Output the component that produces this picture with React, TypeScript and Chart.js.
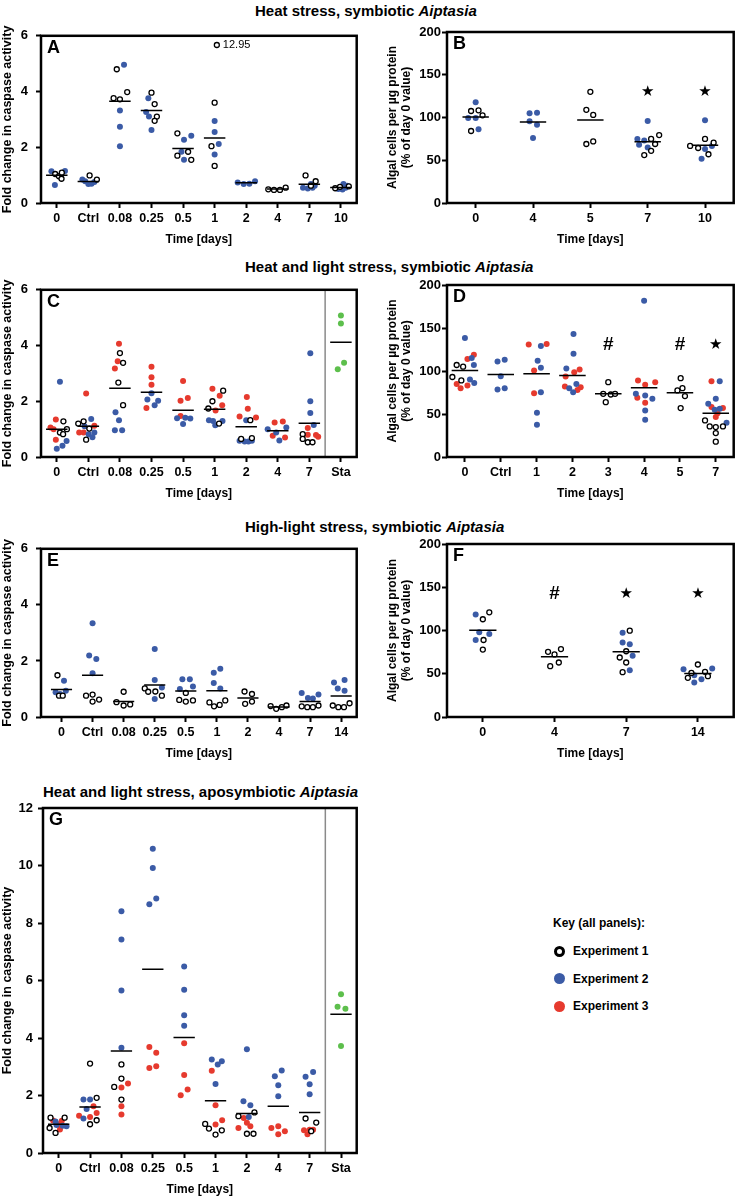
import React, { useEffect, useRef } from "react";
import { Chart, registerables } from "chart.js";
Chart.register(...registerables);

const FONT = "'Liberation Sans', Arial, Helvetica, sans-serif";
const BLUE = "#3b5ba6";
const RED = "#e63a2e";
const GREEN = "#5dbf4c";

// each point: [category index, horizontal jitter (category units), value]
type P = [number, number, number];

// ---------- Panel A ----------
const aCats = ["0", "Ctrl", "0.08", "0.25", "0.5", "1", "2", "4", "7", "10"];
const aMeans = [1.0, 0.77, 3.65, 3.32, 1.96, 2.33, 0.73, 0.5, 0.67, 0.56];
const aExp1: P[] = [
  [0, -0.05, 1.04], [0, 0.07, 0.96], [0, 0.15, 0.87], [0, 0.16, 1.09],
  [1, 0.04, 0.99], [1, 0.27, 0.84],
  [2, -0.1, 4.8], [2, -0.2, 3.76], [2, 0, 3.72], [2, 0.23, 3.98],
  [3, 0, 3.96], [3, 0.1, 3.55], [3, 0.17, 3.1], [3, 0.1, 2.95],
  [4, -0.18, 2.5], [4, -0.18, 1.7], [4, 0.16, 1.84], [4, 0.26, 1.55],
  [5, 0, 3.6], [5, -0.1, 2.04], [5, 0, 1.33],
  [7, -0.3, 0.49], [7, -0.12, 0.47], [7, 0.07, 0.47], [7, 0.25, 0.55],
  [8, -0.12, 0.99], [8, 0.2, 0.78], [8, 0.05, 0.62],
  [9, -0.18, 0.53], [9, -0.03, 0.58], [9, 0.25, 0.6],
];
const aExp2: P[] = [
  [0, -0.17, 1.14], [0, 0.26, 1.15], [0, -0.06, 0.65],
  [1, -0.19, 0.84], [1, -0.1, 0.78], [1, 0, 0.68], [1, 0.1, 0.69], [1, 0.19, 0.75],
  [2, 0.13, 4.96], [2, 0, 3.32], [2, 0, 2.74], [2, 0, 2.04],
  [3, -0.1, 3.76], [3, -0.17, 3.27], [3, -0.08, 3.1], [3, 0, 2.62],
  [4, 0.26, 2.41], [4, 0.03, 2.27], [4, -0.05, 1.84], [4, 0.03, 1.55],
  [5, 0, 2.94], [5, 0, 2.55], [5, 0.13, 2.12], [5, 0, 1.74],
  [6, -0.27, 0.74], [6, -0.08, 0.68], [6, 0.1, 0.69], [6, 0.28, 0.78],
  [8, -0.2, 0.55], [8, -0.05, 0.52], [8, 0.1, 0.55], [8, 0.17, 0.62], [8, 0.05, 0.68],
  [9, -0.08, 0.5], [9, 0.05, 0.48], [9, 0.08, 0.68], [9, 0.2, 0.62], [9, 0.15, 0.55],
];
const aBroken: P[] = [[5, 0.07, 5.67]];
const aBrokenText = ["12.95"];

// ---------- Panel B ----------
const bCats = ["0", "4", "5", "7", "10"];
const bMeans = [100.5, 94.7, 97, 71.5, 67.5];
const bMarks = ["", "", "", "★", "★"];
const bMarkY = 130;
const bExp1: P[] = [
  [0, -0.08, 107.6], [0, 0.05, 108.4], [0, 0.12, 102.5], [0, -0.08, 84.2],
  [2, 0, 130], [2, -0.07, 109], [2, 0.05, 103], [2, -0.07, 69], [2, 0.05, 72],
  [3, 0.06, 75], [3, 0.2, 79.5], [3, 0.13, 69], [3, 0.06, 61], [3, -0.06, 56],
  [4, 0, 75], [4, 0.15, 70.6], [4, -0.26, 66.7], [4, -0.12, 64.3], [4, 0.06, 57],
];
const bExp2: P[] = [
  [0, 0, 117.8], [0, -0.13, 99.4], [0, 0, 99.4], [0, 0.05, 86.2],
  [1, -0.06, 104.9], [1, 0.07, 105.7], [1, -0.06, 95.5], [1, 0.07, 91.6], [1, 0, 76],
  [3, 0, 96], [3, -0.18, 75], [3, -0.06, 73], [3, -0.15, 68], [3, 0, 65],
  [4, 0, 96.7], [4, 0, 63.2], [4, 0.12, 66.7], [4, -0.06, 51.9],
];

// ---------- Panel C ----------
const cCats = ["0", "Ctrl", "0.08", "0.25", "0.5", "1", "2", "4", "7", "Sta"];
const cMeans = [1.0, 1.1, 2.47, 2.32, 1.68, 1.71, 1.09, 0.94, 1.21, 4.12];
const cExp1: P[] = [
  [0, 0.21, 1.28], [0, 0.32, 1.0], [0, 0.1, 0.88], [0, 0.2, 0.82],
  [1, -0.32, 1.2], [1, -0.15, 1.28], [1, 0.03, 1.02], [1, -0.07, 0.62],
  [2, 0, 3.73], [2, 0.1, 3.38], [2, -0.05, 2.67], [2, 0.1, 1.86],
  [5, 0.27, 2.38], [5, -0.07, 2.0], [5, -0.2, 1.74], [5, 0.14, 1.2],
  [6, 0.13, 1.32], [6, -0.16, 0.65], [6, 0.18, 0.68],
  [8, -0.21, 0.82], [8, -0.21, 0.65], [8, -0.05, 0.53], [8, 0.1, 0.53],
];
const cExp2: P[] = [
  [0, 0.1, 2.7], [0, 0.31, 0.57], [0, 0.18, 0.4], [0, 0, 0.3],
  [1, 0.09, 1.36], [1, -0.12, 1.1], [1, 0.01, 0.82], [1, 0.19, 0.88], [1, 0.13, 0.71],
  [2, -0.14, 1.61], [2, -0.03, 1.32], [2, -0.16, 0.96], [2, 0.07, 0.96],
  [3, 0, 2.29], [3, -0.13, 2.06], [3, 0.21, 2.02], [3, 0.1, 1.86],
  [4, -0.19, 1.39], [4, 0.07, 1.41], [4, 0.23, 1.38], [4, 0, 1.18],
  [5, -0.18, 1.32], [5, -0.05, 1.29], [5, 0.25, 1.29], [5, 0.02, 1.14],
  [6, 0, 1.32], [6, -0.21, 0.58], [6, -0.05, 0.56], [6, 0.07, 0.56], [6, 0.18, 0.58],
  [7, -0.32, 1.0], [7, 0.27, 1.06], [7, -0.05, 0.88], [7, 0.05, 0.59],
  [8, 0.03, 3.72], [8, 0.03, 2.0], [8, 0.03, 1.58], [8, 0.14, 1.15],
];
const cExp3: P[] = [
  [0, -0.03, 1.35], [0, -0.2, 1.06], [0, -0.1, 1.0], [0, -0.03, 0.62],
  [1, -0.07, 2.28], [1, 0.19, 1.12], [1, -0.29, 0.88], [1, -0.15, 0.88],
  [2, -0.03, 4.06], [2, -0.07, 3.44], [2, -0.16, 3.18],
  [3, 0, 3.24], [3, 0, 2.86], [3, 0, 2.59], [3, -0.16, 1.76],
  [4, 0, 2.73], [4, 0.15, 2.12], [4, -0.08, 2.02], [4, -0.08, 1.47],
  [5, -0.07, 2.45], [5, 0.16, 2.2], [5, 0.24, 1.86], [5, 0.03, 1.67],
  [6, 0.02, 2.15], [6, 0.05, 1.73], [6, -0.21, 1.45], [6, 0.31, 1.42],
  [7, -0.1, 1.24], [7, 0.16, 1.27], [7, -0.16, 0.76], [7, 0.23, 0.7],
  [8, -0.05, 1.04], [8, -0.05, 0.8], [8, 0.21, 0.79], [8, 0.28, 0.73],
];
const cSta: P[] = [[9, 0, 5.08], [9, 0, 4.79], [9, 0.1, 3.38], [9, -0.1, 3.15]];

// ---------- Panel D ----------
const dCats = ["0", "Ctrl", "1", "2", "3", "4", "5", "7"];
const dMeans = [100.6, 96, 96.7, 94.8, 73.5, 80.5, 74.7, 51];
const dMarks = ["", "", "", "", "#", "", "#", "★"];
const dMarkY = 130;
const dExp1: P[] = [
  [0, -0.23, 107], [0, -0.05, 105], [0, -0.35, 93], [0, -0.1, 89],
  [4, 0, 87], [4, -0.14, 73.5], [4, 0.07, 72.7], [4, 0.19, 73.5], [4, -0.07, 63.8],
  [6, 0.02, 91.7], [6, 0.07, 80], [6, -0.07, 77.4], [6, 0.14, 70.8], [6, 0.02, 56.9],
  [7, -0.3, 42.5], [7, -0.17, 35.6], [7, 0, 34.8], [7, 0.2, 35.6], [7, 0, 27.8], [7, 0, 17.8],
];
const dExp2: P[] = [
  [0, 0, 138.5], [0, 0.19, 115], [0, 0.25, 107], [0, 0.14, 90], [0, 0.26, 86],
  [1, -0.09, 111], [1, 0.11, 113], [1, 0, 94], [1, -0.09, 78.5], [1, 0.11, 80],
  [2, 0.12, 129], [2, 0.03, 112], [2, 0.12, 103.7], [2, 0.12, 75.4], [2, 0.01, 51.4], [2, 0.01, 37.5],
  [3, 0.03, 143], [3, 0.03, 120], [3, -0.17, 103], [3, 0.11, 85], [3, -0.09, 80], [3, 0.02, 75.4],
  [5, 0, 181.8], [5, -0.23, 73.5], [5, 0.03, 71.6], [5, 0.23, 67.7], [5, 0.03, 54], [5, 0.03, 43.3],
  [7, 0.11, 88.2], [7, 0, 67.7], [7, -0.21, 61.9], [7, 0.11, 56], [7, -0.03, 55], [7, 0.3, 39.8],
];
const dExp3: P[] = [
  [0, 0.25, 119], [0, 0.07, 114], [0, -0.23, 85], [0, 0.07, 83], [0, -0.12, 80],
  [2, -0.22, 130.7], [2, 0.28, 131.5], [2, -0.07, 100.6], [2, -0.07, 74],
  [3, 0.2, 101.7], [3, 0.05, 98.6], [3, -0.19, 93.6], [3, -0.21, 82], [3, 0.23, 81], [3, 0.14, 78],
  [5, -0.17, 89], [5, 0.03, 84], [5, 0.31, 87], [5, -0.19, 68.8], [5, 0.03, 63],
  [7, -0.12, 88.2], [7, -0.12, 58], [7, 0.2, 57], [7, 0, 46.4], [7, 0.05, 51],
];

// ---------- Panel E ----------
const eCats = ["0", "Ctrl", "0.08", "0.25", "0.5", "1", "2", "4", "7", "14"];
const eMeans = [0.98, 1.49, 0.55, 1.14, 0.93, 0.94, 0.68, 0.36, 0.55, 0.75];
const eExp1: P[] = [
  [0, -0.13, 1.49], [0, -0.08, 0.76], [0, 0.04, 0.76],
  [1, -0.21, 0.76], [1, 0, 0.8], [1, 0, 0.55], [1, 0.21, 0.62],
  [2, 0, 0.9], [2, -0.23, 0.53], [2, 0, 0.41], [2, 0.21, 0.45],
  [3, -0.32, 1.02], [3, -0.21, 0.9], [3, 0.02, 0.91], [3, 0.23, 0.76],
  [4, 0, 0.86], [4, -0.21, 0.61], [4, 0, 0.55], [4, 0.23, 0.59],
  [5, 0.27, 0.59], [5, -0.24, 0.52], [5, -0.09, 0.38], [5, 0.09, 0.43],
  [6, -0.11, 0.91], [6, 0.13, 0.82], [6, -0.09, 0.47], [6, 0.13, 0.55],
  [7, -0.27, 0.39], [7, -0.09, 0.29], [7, 0.09, 0.35], [7, 0.24, 0.41],
  [8, -0.27, 0.38], [8, -0.09, 0.35], [8, 0.09, 0.35], [8, 0.27, 0.41],
  [9, -0.27, 0.41], [9, -0.09, 0.35], [9, 0.09, 0.35], [9, 0.27, 0.49],
];
const eExp2: P[] = [
  [0, 0.08, 1.29], [0, -0.19, 0.88], [0, 0.14, 0.94], [0, -0.05, 0.82],
  [1, 0, 3.34], [1, -0.11, 2.19], [1, 0.12, 2.07], [1, 0, 1.56],
  [3, 0, 2.43], [3, 0, 1.32], [3, 0.23, 1.05], [3, 0, 0.64],
  [4, -0.11, 1.35], [4, 0.13, 1.35], [4, 0.23, 1.09], [4, -0.19, 1.0],
  [5, -0.1, 1.58], [5, 0.11, 1.72], [5, -0.1, 1.21], [5, 0.11, 1.02],
  [8, -0.27, 0.86], [8, -0.07, 0.68], [8, 0.09, 0.66], [8, 0.27, 0.8],
  [9, -0.23, 1.23], [9, 0.11, 1.32], [9, -0.11, 1.02], [9, 0.11, 0.94],
];

// ---------- Panel F ----------
const fCats = ["0", "4", "7", "14"];
const fMeans = [100.3, 69.6, 75.4, 50.3];
const fMarks = ["", "#", "★", "★"];
const fMarkY = 142.5;
const fExp1: P[] = [
  [0, 0.09, 121], [0, 0, 113], [0, 0.01, 89], [0, 0, 78],
  [1, -0.09, 75.4], [1, 0.09, 78.5], [1, 0, 72.3], [1, 0.06, 63], [1, -0.06, 58.8],
  [2, 0.05, 99.8], [2, 0, 76], [2, -0.09, 68.8], [2, 0, 63], [2, -0.05, 51.8],
  [3, 0, 60.7], [3, -0.09, 51], [3, 0.1, 52.2], [3, -0.14, 45.3], [3, 0.14, 47.2],
];
const fExp2: P[] = [
  [0, -0.1, 118.5], [0, -0.05, 98], [0, 0.09, 96], [0, -0.1, 89],
  [2, -0.05, 97.5], [2, -0.05, 86], [2, 0.05, 84], [2, 0.09, 70.8], [2, 0.05, 54],
  [3, -0.2, 55.3], [3, 0.2, 56], [3, -0.05, 48.3], [3, 0.05, 43.7], [3, -0.05, 39.8],
];

// ---------- Panel G ----------
const gCats = ["0", "Ctrl", "0.08", "0.25", "0.5", "1", "2", "4", "7", "Sta"];
const gMeans = [1.0, 1.6, 3.55, 6.39, 4.02, 1.82, 1.37, 1.63, 1.41, 4.83];
const gExp1: P[] = [
  [0, -0.26, 1.23], [0, 0.19, 1.23], [0, -0.29, 0.87], [0, -0.1, 0.7],
  [1, 0, 3.11], [1, 0.21, 1.92], [1, 0.21, 1.14], [1, 0, 1.0],
  [2, 0, 3.08], [2, 0, 2.59], [2, -0.23, 2.3], [2, 0, 1.86],
  [5, -0.33, 1.01], [5, -0.21, 0.85], [5, 0.2, 0.79], [5, 0, 0.64],
  [6, 0.24, 1.41], [6, -0.27, 1.28], [6, 0, 0.67], [6, 0.21, 0.67],
  [8, -0.13, 1.2], [8, 0.21, 1.06], [8, 0.05, 0.76],
];
const gExp2: P[] = [
  [0, -0.1, 1.1], [0, -0.07, 0.97], [0, 0.25, 0.93], [0, 0.13, 0.95],
  [1, -0.21, 1.86], [1, 0, 1.86], [1, -0.11, 1.53], [1, -0.21, 1.2],
  [2, 0, 8.41], [2, 0, 7.43], [2, 0, 5.65], [2, 0, 3.66],
  [3, 0, 10.58], [3, 0, 9.91], [3, 0.11, 8.85], [3, -0.11, 8.65],
  [4, 0, 6.49], [4, 0, 5.68], [4, 0, 4.79], [4, 0, 4.43],
  [5, -0.12, 3.25], [5, 0.2, 3.19], [5, 0.07, 3.08], [5, 0, 2.4],
  [6, 0, 3.61], [6, -0.11, 1.8], [6, 0.11, 1.66], [6, 0.06, 1.25],
  [7, 0.11, 2.87], [7, -0.11, 2.67], [7, 0, 2.36], [7, 0, 1.97],
  [8, 0.11, 2.82], [8, -0.13, 2.65], [8, 0, 2.39], [8, 0, 2.04],
];
const gExp3: P[] = [
  [0, -0.18, 1.13], [0, 0.1, 1.12], [0, 0, 1.0], [0, 0.04, 0.82],
  [1, 0.11, 1.63], [1, -0.35, 1.3], [1, 0, 1.25], [1, 0.21, 1.39],
  [2, 0.21, 2.42], [2, 0, 2.28], [2, 0, 1.63], [2, 0, 1.34],
  [3, -0.11, 3.69], [3, 0.11, 3.49], [3, 0.11, 3.02], [3, -0.11, 2.96],
  [4, 0, 3.82], [4, 0, 2.71], [4, 0.11, 2.21], [4, -0.11, 2.01],
  [5, -0.12, 2.86], [5, 0, 1.66], [5, 0.21, 1.14], [5, 0, 0.99],
  [6, -0.1, 1.22], [6, -0.27, 0.87], [6, 0, 1.05], [6, 0.11, 0.93],
  [7, -0.22, 0.87], [7, 0, 0.93], [7, 0.21, 0.76], [7, 0, 0.65],
  [8, -0.18, 0.79], [8, 0, 0.81], [8, 0.11, 0.81], [8, -0.07, 0.65],
];
const gSta: P[] = [[9, 0, 5.52], [9, -0.11, 5.09], [9, 0.14, 5.02], [9, 0, 3.72]];

// ---------- Key ----------
const keyLabels = ["Experiment 1", "Experiment 2", "Experiment 3"];
const keyColors = ["open", BLUE, RED];

const CASPASE = "Fold change in caspase activity";
const ALGAL = ["Algal cells per µg protein", "(% of day 0 value)"];

interface PanelCfg {
  letter: string;
  box: [number, number, number, number];
  yAxisW: number; topPad: number; rightPad: number; xAxisH: number;
  yMax: number; yStep: number; yTitle: string | string[]; yTickPad: number;
  xMin: number;
  cats: string[]; means: number[]; meanHalf: number;
  exp1: P[]; exp2: P[]; exp3: P[]; sta: P[];
  broken: P[]; brokenText: string[];
  marks: string[]; markY: number;
  divider: number | null;
}

const LEFT = { yAxisW: 41, topPad: 13, rightPad: 4, xAxisH: 44, yTickPad: 8, yTitle: CASPASE, yStep: 2, yMax: 6, meanHalf: 0.34, xMin: -0.5 };
const RIGHT = { yAxisW: 61, topPad: 13, rightPad: 2, xAxisH: 44, yTickPad: 1, yTitle: ALGAL, yStep: 50, yMax: 200, xMin: -0.5 };
const NONE = { exp1: [] as P[], exp2: [] as P[], exp3: [] as P[], sta: [] as P[], broken: [] as P[], brokenText: [] as string[], marks: [] as string[], markY: 0, divider: null };

const panels: PanelCfg[] = [
  { ...LEFT, ...NONE, letter: "A", box: [0, 20, 362, 227], cats: aCats, means: aMeans, exp1: aExp1, exp2: aExp2, broken: aBroken, brokenText: aBrokenText },
  { ...RIGHT, ...NONE, letter: "B", box: [386, 19, 353, 228], cats: bCats, means: bMeans, meanHalf: 0.23, exp1: bExp1, exp2: bExp2, marks: bMarks, markY: bMarkY },
  { ...LEFT, ...NONE, letter: "C", box: [0, 274, 362, 227], cats: cCats, means: cMeans, exp1: cExp1, exp2: cExp2, exp3: cExp3, sta: cSta, divider: 8.5 },
  { ...RIGHT, ...NONE, letter: "D", box: [386, 272, 353, 229], cats: dCats, means: dMeans, meanHalf: 0.37, exp1: dExp1, exp2: dExp2, exp3: dExp3, marks: dMarks, markY: dMarkY },
  { ...LEFT, ...NONE, letter: "E", box: [0, 533, 362, 228], cats: eCats, means: eMeans, exp1: eExp1, exp2: eExp2, xMin: -0.66 },
  { ...RIGHT, ...NONE, letter: "F", box: [386, 531, 353, 230], cats: fCats, means: fMeans, meanHalf: 0.19, exp1: fExp1, exp2: fExp2, marks: fMarks, markY: fMarkY },
  { ...LEFT, ...NONE, letter: "G", box: [0, 795, 362, 402], yAxisW: 43, yTickPad: 5, yMax: 12, cats: gCats, means: gMeans, exp1: gExp1, exp2: gExp2, exp3: gExp3, sta: gSta, divider: 8.5 },
];

function buildConfig(p: PanelCfg): any {
  const xy = (pts: P[]) => pts.map(([c, o, v]) => ({ x: c + o, y: v }));
  const meanPts = p.means.flatMap((m, i) => [
    { x: i - p.meanHalf, y: m },
    { x: i + p.meanHalf, y: m },
    { x: i + p.meanHalf, y: null },
  ]);
  const open = { pointRadius: 2.5, pointBorderWidth: 1.3, borderColor: "#000", backgroundColor: "#fff", pointBorderColor: "#000", pointBackgroundColor: "#fff" };
  const fill = (c: string) => ({ pointRadius: 3, pointBorderWidth: 0, borderColor: c, backgroundColor: c, pointBorderColor: c, pointBackgroundColor: c });
  const tickFont = { family: FONT, size: 13, weight: "bold" as const };
  const decor = {
    id: "decor",
    beforeDatasetsDraw(chart: any) {
      if (p.divider == null) return;
      const { ctx, chartArea: a, scales } = chart;
      const px = scales.x.getPixelForValue(p.divider);
      ctx.save();
      ctx.strokeStyle = "#8a8a8a";
      ctx.lineWidth = 1.5;
      ctx.beginPath();
      ctx.moveTo(px, a.top);
      ctx.lineTo(px, a.bottom);
      ctx.stroke();
      ctx.restore();
    },
    afterDraw(chart: any) {
      const { ctx, chartArea: a, scales } = chart;
      ctx.save();
      ctx.strokeStyle = "#000";
      ctx.lineWidth = 2.5;
      ctx.strokeRect(a.left, a.top, a.right - a.left, a.bottom - a.top);
      ctx.fillStyle = "#000";
      ctx.textAlign = "left";
      ctx.textBaseline = "top";
      ctx.font = `bold 18px ${FONT}`;
      ctx.fillText(p.letter, a.left + 6, a.top + 3);
      p.marks.forEach((s, i) => {
        if (!s) return;
        ctx.font = s === "#" ? `bold 19px ${FONT}` : `15px 'DejaVu Sans'`;
        ctx.textAlign = "center";
        ctx.textBaseline = "middle";
        ctx.fillText(s, scales.x.getPixelForValue(i), scales.y.getPixelForValue(p.markY));
      });
      const meta = chart.getDatasetMeta(5);
      ctx.font = `11px ${FONT}`;
      ctx.textAlign = "left";
      ctx.textBaseline = "middle";
      meta.data.forEach((el: any, k: number) => {
        if (p.brokenText[k]) ctx.fillText(p.brokenText[k], el.x + 6, el.y);
      });
      ctx.restore();
    },
  };
  return {
    type: "scatter",
    data: {
      datasets: [
        { data: meanPts, showLine: true, borderColor: "#000", borderWidth: 1.5, pointRadius: 0, spanGaps: false, order: 0 },
        { data: xy(p.exp1), ...open, order: 1 },
        { data: xy(p.exp2), ...fill(BLUE), order: 2 },
        { data: xy(p.exp3), ...fill(RED), order: 3 },
        { data: xy(p.sta), ...fill(GREEN), order: 4 },
        { data: xy(p.broken), ...open, order: 5 },
      ],
    },
    options: {
      responsive: false,
      animation: false,
      events: [],
      layout: { padding: { top: p.topPad, right: p.rightPad, left: 0, bottom: 0 } },
      plugins: { legend: { display: false }, tooltip: { enabled: false } },
      scales: {
        x: {
          type: "linear",
          min: p.xMin,
          max: p.cats.length - 0.5,
          afterBuildTicks: (s: any) => { s.ticks = p.cats.map((_, i) => ({ value: i })); },
          afterFit: (s: any) => { s.height = p.xAxisH; },
          ticks: {
            callback: (v: any) => p.cats[v] ?? "",
            font: { family: FONT, size: 12.5, weight: "bold" },
            color: "#000", padding: 3, maxRotation: 0, autoSkip: false,
          },
          grid: { display: true, drawOnChartArea: false, drawTicks: true, tickLength: 5, tickWidth: 2, tickColor: "#000" },
          border: { display: false },
          title: { display: true, text: "Time [days]", color: "#000", font: { family: FONT, size: 12, weight: "bold" }, padding: { top: 0, bottom: 0 } },
        },
        y: {
          type: "linear",
          min: 0,
          max: p.yMax,
          afterFit: (s: any) => { s.width = p.yAxisW; },
          ticks: { stepSize: p.yStep, font: tickFont, color: "#000", padding: p.yTickPad },
          grid: { display: true, drawOnChartArea: false, drawTicks: true, tickLength: 5, tickWidth: 2, tickColor: "#000" },
          border: { display: false },
          title: {
            display: true, text: p.yTitle, color: "#000",
            font: Array.isArray(p.yTitle) ? { family: FONT, size: 12, weight: "bold", lineHeight: 1.15 } : { family: FONT, size: 12.5, weight: "bold" },
            padding: { top: 0, bottom: 0 },
          },
        },
      },
    },
    plugins: [decor],
  };
}

function Panel({ cfg }: { cfg: PanelCfg }) {
  const ref = useRef<HTMLCanvasElement>(null);
  useEffect(() => {
    const chart = new Chart(ref.current as HTMLCanvasElement, buildConfig(cfg));
    return () => chart.destroy();
  }, [cfg]);
  const [l, t, w, h] = cfg.box;
  return (
    <canvas ref={ref} width={w} height={h}
      style={{ position: "absolute", left: l, top: t, width: w, height: h }} />
  );
}

function Title({ left, top, text }: { left: number; top: number; text: string }) {
  return (
    <div style={{ position: "absolute", left, top, font: `bold 15px ${FONT}`, lineHeight: "18px", whiteSpace: "nowrap", color: "#000" }}>
      {text}<i>Aiptasia</i>
    </div>
  );
}

export default function App() {
  return (
    <div style={{ position: "absolute", left: 0, top: 0, width: 740, height: 1199, background: "#fff", overflow: "hidden" }}>
      <Title left={255} top={2} text="Heat stress, symbiotic " />
      <Title left={245} top={258} text="Heat and light stress, symbiotic " />
      <Title left={245} top={518} text="High-light stress, symbiotic " />
      <Title left={43} top={783} text="Heat and light stress, aposymbiotic " />
      {panels.map((p) => <Panel key={p.letter} cfg={p} />)}
      <div style={{ position: "absolute", left: 553, top: 915, font: `bold 12px ${FONT}`, lineHeight: "16px", whiteSpace: "nowrap" }}>
        Key (all panels):
      </div>
      {keyLabels.map((lab, i) => (
        <div key={lab} style={{ position: "absolute", left: 553, top: 943 + i * 27.5, height: 16, display: "flex", alignItems: "center", whiteSpace: "nowrap" }}>
          <span style={{
            display: "inline-block", marginLeft: 1, width: 11, height: 11, borderRadius: "50%", boxSizing: "border-box",
            border: keyColors[i] === "open" ? "3px solid #000" : "none",
            background: keyColors[i] === "open" ? "#fff" : keyColors[i],
          }} />
          <span style={{ marginLeft: 8, font: `bold 12px ${FONT}`, lineHeight: "16px" }}>{lab}</span>
        </div>
      ))}
    </div>
  );
}
